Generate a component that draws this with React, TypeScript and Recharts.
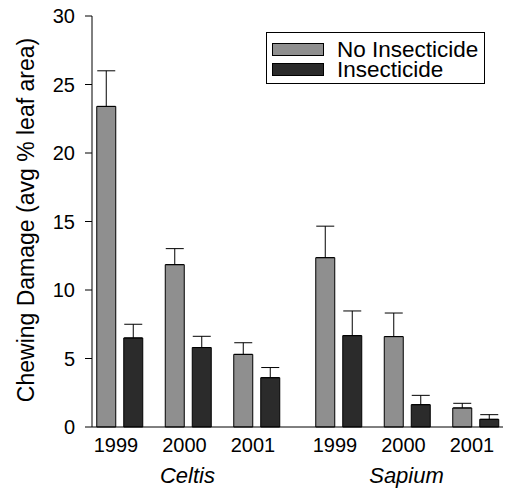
import { BarChart, Bar, XAxis, YAxis, ErrorBar, Legend } from 'recharts';

const years = ['1999', '2000', '2001'];
const yTicks = [0, 5, 10, 15, 20, 25, 30];
const seriesNames = ['No Insecticide', 'Insecticide'];

const celtisNone = [23.4, 11.85, 5.3];
const celtisNoneErr = [2.6, 1.17, 0.85];
const celtisIns = [6.5, 5.8, 3.6];
const celtisInsErr = [1.0, 0.82, 0.74];

const sapiumNone = [12.36, 6.6, 1.39];
const sapiumNoneErr = [2.3, 1.72, 0.34];
const sapiumIns = [6.67, 1.63, 0.56];
const sapiumInsErr = [1.8, 0.68, 0.34];

const GREY = '#8f8f8f';
const DARK = '#2b2b2b';
const FONT = '"Liberation Sans", Arial, Helvetica, sans-serif';

function rows(none: number[], noneErr: number[], ins: number[], insErr: number[]) {
  return years.map((year, i) => ({
    year,
    none: none[i],
    noneErr: [0, noneErr[i]],
    ins: ins[i],
    insErr: [0, insErr[i]],
  }));
}

const celtisData = rows(celtisNone, celtisNoneErr, celtisIns, celtisInsErr);
const sapiumData = rows(sapiumNone, sapiumNoneErr, sapiumIns, sapiumInsErr);

function YearTick(props: any) {
  const { x, y, payload, index, genus } = props;
  return (
    <g>
      <text x={x - 4} y={y + 25} textAnchor="middle" fontSize={20} fill="#000" fontFamily={FONT}>
        {payload.value}
      </text>
      {index === 1 && (
        <text x={x - 1} y={y + 56} textAnchor="middle" fontSize={22} fontStyle="italic" fill="#000" fontFamily={FONT}>
          {genus}
        </text>
      )}
    </g>
  );
}

function YLabel(props: any) {
  const { viewBox } = props;
  const cx = viewBox.x + 34;
  const cy = viewBox.y + viewBox.height / 2 - 1.5;
  return (
    <text x={cx} y={cy} transform={`rotate(-90, ${cx}, ${cy})`} textAnchor="middle" fontSize={23} fill="#000" fontFamily={FONT}>
      Chewing Damage (avg % leaf area)
    </text>
  );
}

function LegendBox(props: any) {
  const items = [...(props.payload || [])].sort(
    (a: any, b: any) => seriesNames.indexOf(a.value) - seriesNames.indexOf(b.value)
  );
  return (
    <div style={{ boxSizing: 'border-box', width: 219, height: 52, border: '1px solid #000', padding: '7px 0 0 5px', background: '#fff', fontFamily: FONT }}>
      {items.map((it: any) => (
        <div key={it.value} style={{ display: 'flex', alignItems: 'center', height: 19.5 }}>
          <span style={{ display: 'inline-block', boxSizing: 'border-box', width: 52, height: 13, border: '1px solid #000', background: it.color, marginRight: 13 }} />
          <span style={{ fontSize: 22.5, lineHeight: '19.5px', color: '#000' }}>{it.value}</span>
        </div>
      ))}
    </div>
  );
}

export default function App() {
  const axisStroke = { stroke: '#000', strokeWidth: 1 };
  return (
    <div style={{ position: 'absolute', left: 0, top: 0, width: 506, height: 491, background: '#fff', fontFamily: FONT }}>
      <div style={{ position: 'absolute', left: 0, top: 0 }}>
        <BarChart width={298} height={491} data={celtisData} margin={{ top: 16, right: 0, bottom: 0, left: 0 }} barSize={19} barGap={8}>
          <XAxis dataKey="year" height={64} axisLine={axisStroke} tickLine={false} tickSize={0} tickMargin={0}
            padding={{ left: -6.25, right: 6.75 }} interval={0}
            tick={(p: any) => <YearTick {...p} genus="Celtis" />} />
          <YAxis width={92} domain={[0, 30]} ticks={yTicks} interval={0} axisLine={axisStroke} tickLine={axisStroke}
            tickSize={7} tickMargin={10} tick={{ fill: '#000', fontSize: 20, fontFamily: FONT }}
            label={(p: any) => <YLabel {...p} />} />
          <Legend layout="horizontal" verticalAlign="middle" align="center"
            wrapperStyle={{ left: 266, top: 32, width: 219, height: 52 }} content={(p: any) => <LegendBox {...p} />} />
          <Bar dataKey="none" name={seriesNames[0]} fill={GREY} stroke="#000" strokeWidth={1} isAnimationActive={false}>
            <ErrorBar dataKey="noneErr" direction="y" width={9} stroke="#000" strokeWidth={1} isAnimationActive={false} />
          </Bar>
          <Bar dataKey="ins" name={seriesNames[1]} fill={DARK} stroke="#000" strokeWidth={1} isAnimationActive={false}>
            <ErrorBar dataKey="insErr" direction="y" width={9} stroke="#000" strokeWidth={1} isAnimationActive={false} />
          </Bar>
        </BarChart>
      </div>
      <div style={{ position: 'absolute', left: 298, top: 0 }}>
        <BarChart width={208} height={491} data={sapiumData} margin={{ top: 16, right: 3, bottom: 0, left: 0 }} barSize={19} barGap={8}>
          <XAxis dataKey="year" height={64} axisLine={axisStroke} tickLine={false} tickSize={0} tickMargin={0}
            padding={{ left: 6.75, right: -7.25 }} interval={0}
            tick={(p: any) => <YearTick {...p} genus="Sapium" />} />
          <YAxis hide domain={[0, 30]} ticks={yTicks} />
          <Bar dataKey="none" name={seriesNames[0]} fill={GREY} stroke="#000" strokeWidth={1} isAnimationActive={false}>
            <ErrorBar dataKey="noneErr" direction="y" width={9} stroke="#000" strokeWidth={1} isAnimationActive={false} />
          </Bar>
          <Bar dataKey="ins" name={seriesNames[1]} fill={DARK} stroke="#000" strokeWidth={1} isAnimationActive={false}>
            <ErrorBar dataKey="insErr" direction="y" width={9} stroke="#000" strokeWidth={1} isAnimationActive={false} />
          </Bar>
        </BarChart>
      </div>
    </div>
  );
}
